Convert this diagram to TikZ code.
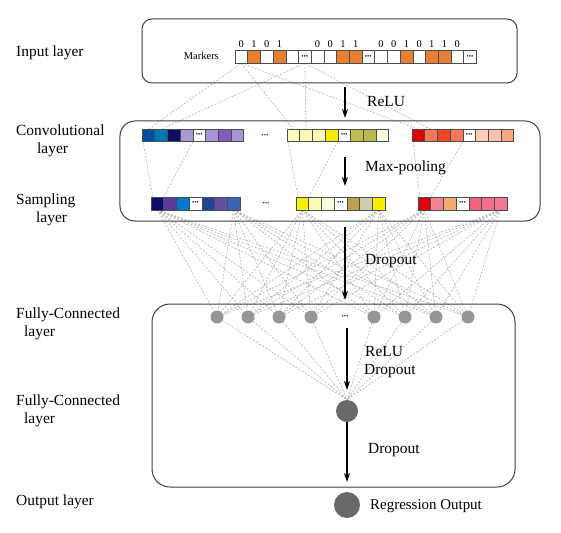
\documentclass[tikz,border=0pt]{standalone}
\usepackage{fontspec}
\setmainfont{Liberation Serif}
\usetikzlibrary{arrows.meta,backgrounds}
\pgfdeclarelayer{paper}
\pgfsetlayers{paper,background,main}
\definecolor{cw}{RGB}{255,255,255}
\definecolor{co}{RGB}{232,128,52}
% conv blue
\definecolor{kb1}{RGB}{0,80,160}
\definecolor{kb2}{RGB}{0,118,180}
\definecolor{kb3}{RGB}{12,12,100}
\definecolor{kb4}{RGB}{172,152,214}
\definecolor{kb6}{RGB}{168,148,214}
\definecolor{kb7}{RGB}{128,92,188}
\definecolor{kb8}{RGB}{168,148,214}
% conv yellow
\definecolor{ky1}{RGB}{250,250,195}
\definecolor{ky2}{RGB}{248,248,180}
\definecolor{ky3}{RGB}{248,248,180}
\definecolor{ky4}{RGB}{245,235,0}
\definecolor{ky6}{RGB}{190,190,80}
\definecolor{ky7}{RGB}{185,185,75}
\definecolor{ky8}{RGB}{252,252,225}
% conv red
\definecolor{kr1}{RGB}{220,0,0}
\definecolor{kr2}{RGB}{245,120,90}
\definecolor{kr3}{RGB}{240,70,40}
\definecolor{kr4}{RGB}{245,120,90}
\definecolor{kr6}{RGB}{252,205,185}
\definecolor{kr7}{RGB}{250,195,170}
\definecolor{kr8}{RGB}{245,165,130}
% sampling blue
\definecolor{qb1}{RGB}{15,10,110}
\definecolor{qb2}{RGB}{90,60,160}
\definecolor{qb3}{RGB}{0,120,210}
\definecolor{qb5}{RGB}{30,70,150}
\definecolor{qb6}{RGB}{100,80,160}
\definecolor{qb7}{RGB}{60,100,180}
% sampling yellow
\definecolor{qy1}{RGB}{245,240,0}
\definecolor{qy2}{RGB}{250,250,180}
\definecolor{qy3}{RGB}{252,252,220}
\definecolor{qy5}{RGB}{190,160,80}
\definecolor{qy6}{RGB}{205,205,175}
\definecolor{qy7}{RGB}{245,240,0}
% sampling red
\definecolor{qr1}{RGB}{220,0,10}
\definecolor{qr2}{RGB}{245,130,150}
\definecolor{qr3}{RGB}{245,170,110}
\definecolor{qr5}{RGB}{240,100,130}
\definecolor{qr6}{RGB}{242,110,140}
\definecolor{qr7}{RGB}{242,120,145}
\definecolor{fcgray}{RGB}{150,150,150}
\definecolor{outgray}{RGB}{105,105,105}
\newcommand\dd{{\fontsize{6.5}{6.5}\selectfont •••}}
\newcommand\cellrow[4]{%
  \foreach \c/\t [count=\i] in {#4} {%
    \node[cell, fill=\c] (#1\i) at ({#2+(\i-0.5)*12.7}, #3) {\t};
  }}
\begin{document}
\begin{tikzpicture}[x=1bp,y=-1bp,
  cell/.style={draw=black!70, line width=0.5bp, minimum width=12.7bp,
    minimum height=12.5bp, inner sep=0pt, outer sep=0pt},
  layerbox/.style={draw=black!75, line width=1bp, inner sep=0pt},
  conn/.style={draw=black!30, dash pattern=on 2bp off 1.6bp, line width=0.6bp},
  flow/.style={-{Stealth[length=9bp,width=6bp]}, line width=1.2bp},
  lbl/.style={font=\fontsize{15.5}{18}\selectfont, anchor=base west, inner sep=0pt},
  digit/.style={font=\fontsize{10.5}{12}\selectfont, anchor=base, inner sep=0pt},
  gdots/.style={font=\fontsize{7}{7}\selectfont, inner sep=0pt, text=black!70},
  fcnode/.style={circle, fill=fcgray, minimum size=13bp, inner sep=0pt},
  bignode/.style={circle, fill=outgray, inner sep=0pt}
]
\begin{pgfonlayer}{paper}
\fill[white] (0,0) rectangle (561,533);
\end{pgfonlayer}
\useasboundingbox (0,0) rectangle (561,533);

% layer boxes
\node[layerbox, rounded corners=10bp, minimum width=375bp, minimum height=64bp] (inbox) at (329.5,51) {};
\node[layerbox, rounded corners=15bp, minimum width=420bp, minimum height=100bp] (convbox) at (330,171) {};
\node[layerbox, rounded corners=18bp, minimum width=363bp, minimum height=183bp] (fcbox) at (333.5,395.5) {};

% input row
\cellrow{in}{235}{57}{cw/{},co/{},cw/{},co/{},cw/{},cw/\dd,cw/{},cw/{},co/{},co/{},cw/\dd,cw/{},cw/{},co/{},cw/{},co/{},co/{},cw/{},cw/\dd}
\foreach \i/\d in {1/0,2/1,3/0,4/1,7/0,8/0,9/1,10/1,12/0,13/0,14/1,15/0,16/1,17/1,18/0}
  \node[digit] (dg\i) at ({235+(\i-0.5)*12.7},47.5) {\d};
\node[font=\fontsize{10.5}{12}\selectfont, anchor=base east, inner sep=0pt] (mk) at (219,60) {Markers};

% convolutional rows
\cellrow{cb}{142}{135.5}{kb1/{},kb2/{},kb3/{},kb4/{},cw/\dd,kb6/{},kb7/{},kb8/{}}
\cellrow{cy}{287}{135.5}{ky1/{},ky2/{},ky3/{},ky4/{},cw/\dd,ky6/{},ky7/{},ky8/{}}
\cellrow{cr}{412}{135.5}{kr1/{},kr2/{},kr3/{},kr4/{},cw/\dd,kr6/{},kr7/{},kr8/{}}
\node[gdots] (cdots) at (265,135.5) {•••};

% sampling rows
\cellrow{sb}{151}{203.5}{qb1/{},qb2/{},qb3/{},cw/\dd,qb5/{},qb6/{},qb7/{}}
\cellrow{sy}{296}{203.5}{qy1/{},qy2/{},qy3/{},cw/\dd,qy5/{},qy6/{},qy7/{}}
\cellrow{sr}{418}{203.5}{qr1/{},qr2/{},qr3/{},cw/\dd,qr5/{},qr6/{},qr7/{}}
\node[gdots] (sdots) at (266,203.5) {•••};

% fully connected nodes
\foreach \x [count=\i] in {217,248,279,311,374,405,436,468}
  \node[fcnode] (f\i) at (\x,317) {};
\node[gdots] (fdots) at (345,317) {•••};
\node[bignode, minimum size=22bp] (fc2) at (347,411) {};
\node[bignode, minimum size=26bp] (out) at (347,505) {};

% dashed connections (behind)
\begin{pgfonlayer}{background}
  \foreach \g in {cb,cy,cr} {
    \draw[conn] (in1.south) -- (\g1.north);
    \draw[conn] (in6.south) -- (\g2.north);
  }
  \foreach \c/\s in {cb/sb,cy/sy,cr/sr} {
    \draw[conn] ([xshift=1bp]\c1.south west) -- ([xshift=2bp]\s1.north west);
    \draw[conn] (\c4.south east) -- (\s1.north east);
  }
  \foreach \s in {sb1,sb7,sy1,sy7,sr1,sr7}
    \foreach \j in {1,...,8}
      \draw[conn] (\s.south) -- (f\j);
  \foreach \j in {1,...,8}
    \draw[conn] (f\j) -- (fc2.north);
\end{pgfonlayer}

% flow arrows
\coordinate (a1s) at (345,87);  \coordinate (a1e) at (345,118);
\coordinate (a2s) at (345,157); \coordinate (a2e) at (345,186);
\coordinate (a3s) at (345,227); \coordinate (a3e) at (345,300);
\coordinate (a4s) at (347,328); \coordinate (a4e) at (347,390);
\coordinate (a5e) at (347,482);
\draw[flow] (a1s) -- (a1e);
\draw[flow] (a2s) -- (a2e);
\draw[flow] (a3s) -- (a3e);
\draw[flow] (a4s) -- (a4e);
\draw[flow] (fc2.south) -- (a5e);

% operation labels
\node[lbl] (relu1) at (367,107) {ReLU};
\node[lbl] (maxp) at (365,172) {Max-pooling};
\node[lbl] (drop1) at (365,264) {Dropout};
\node[lbl] (relu2) at (365,356) {ReLU};
\node[lbl] (drop2) at (364,374) {Dropout};
\node[lbl] (drop3) at (368,453) {Dropout};
\node[lbl, font=\fontsize{15}{18}\selectfont] (regout) at (370,509) {Regression Output};

% layer names
\node[lbl] (ln1) at (16,57) {Input layer};
\node[lbl] (ln2a) at (16,136) {Convolutional};
\node[lbl] (ln2b) at (37,154) {layer};
\node[lbl] (ln3a) at (16,205) {Sampling};
\node[lbl] (ln3b) at (36,223) {layer};
\node[lbl] (ln4a) at (16,318) {Fully-Connected};
\node[lbl] (ln4b) at (24,336) {layer};
\node[lbl] (ln5a) at (16,405) {Fully-Connected};
\node[lbl] (ln5b) at (24,423) {layer};
\node[lbl] (ln6) at (16,505) {Output layer};
\end{tikzpicture}
\end{document}
